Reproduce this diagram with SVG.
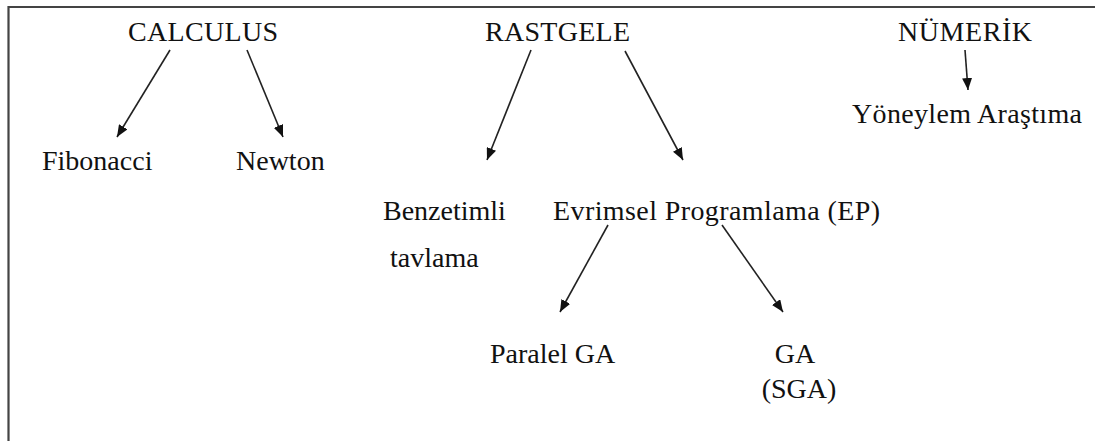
<svg xmlns="http://www.w3.org/2000/svg" width="1095" height="441" viewBox="0 0 1095 441">
  <defs>
    <marker id="head" viewBox="0 0 12 10" refX="12" refY="5" markerWidth="12" markerHeight="10" markerUnits="userSpaceOnUse" orient="auto">
      <path d="M0,0 L12,5 L0,10 Z" fill="#111"/>
    </marker>
  </defs>
  <rect width="1095" height="441" fill="#fff"/>
  <!-- frame, open at right and bottom -->
  <path d="M8.5,441 V7 H1095" fill="none" stroke="#444" stroke-width="2.2"/>

  <g id="calculus"><text font-size="28" font-family="Times New Roman" fill="#111" x="128" y="41" textLength="150">CALCULUS</text></g>
  <g id="fibonacci"><text font-size="28" font-family="Times New Roman" fill="#111" x="42" y="170">Fibonacci</text></g>
  <g id="newton"><text font-size="28" font-family="Times New Roman" fill="#111" x="236" y="170">Newton</text></g>
  <g id="rastgele"><text font-size="28" font-family="Times New Roman" fill="#111" x="485" y="41" textLength="145">RASTGELE</text></g>
  <g id="benzetimli"><text font-size="28" font-family="Times New Roman" fill="#111" x="383" y="220">Benzetimli</text><text font-size="28" font-family="Times New Roman" fill="#111" x="390" y="267">tavlama</text></g>
  <g id="ep"><text font-size="28" font-family="Times New Roman" fill="#111" x="553" y="220" textLength="327">Evrimsel Programlama (EP)</text></g>
  <g id="paralel-ga"><text font-size="28" font-family="Times New Roman" fill="#111" x="490" y="363">Paralel GA</text></g>
  <g id="sga"><text font-size="28" font-family="Times New Roman" fill="#111" text-anchor="middle" x="795" y="363">GA</text><text font-size="28" font-family="Times New Roman" fill="#111" text-anchor="middle" x="799" y="398">(SGA)</text></g>
  <g id="numerik"><text font-size="28" font-family="Times New Roman" fill="#111" x="898" y="41" textLength="134">NÜMERİK</text></g>
  <g id="yoneylem"><text font-size="28" font-family="Times New Roman" fill="#111" x="852" y="123" textLength="230">Yöneylem Araştıma</text></g>

  <g id="connectors" stroke="#222" stroke-width="1.6" fill="none" marker-end="url(#head)">
    <line x1="170" y1="50" x2="117" y2="137"/>
    <line x1="247" y1="50" x2="283" y2="137"/>
    <line x1="531" y1="50" x2="487" y2="160"/>
    <line x1="625" y1="51" x2="683" y2="160"/>
    <line x1="965" y1="50" x2="968" y2="90"/>
    <line x1="608" y1="225" x2="560" y2="312"/>
    <line x1="722" y1="225" x2="783" y2="312"/>
  </g>
</svg>
